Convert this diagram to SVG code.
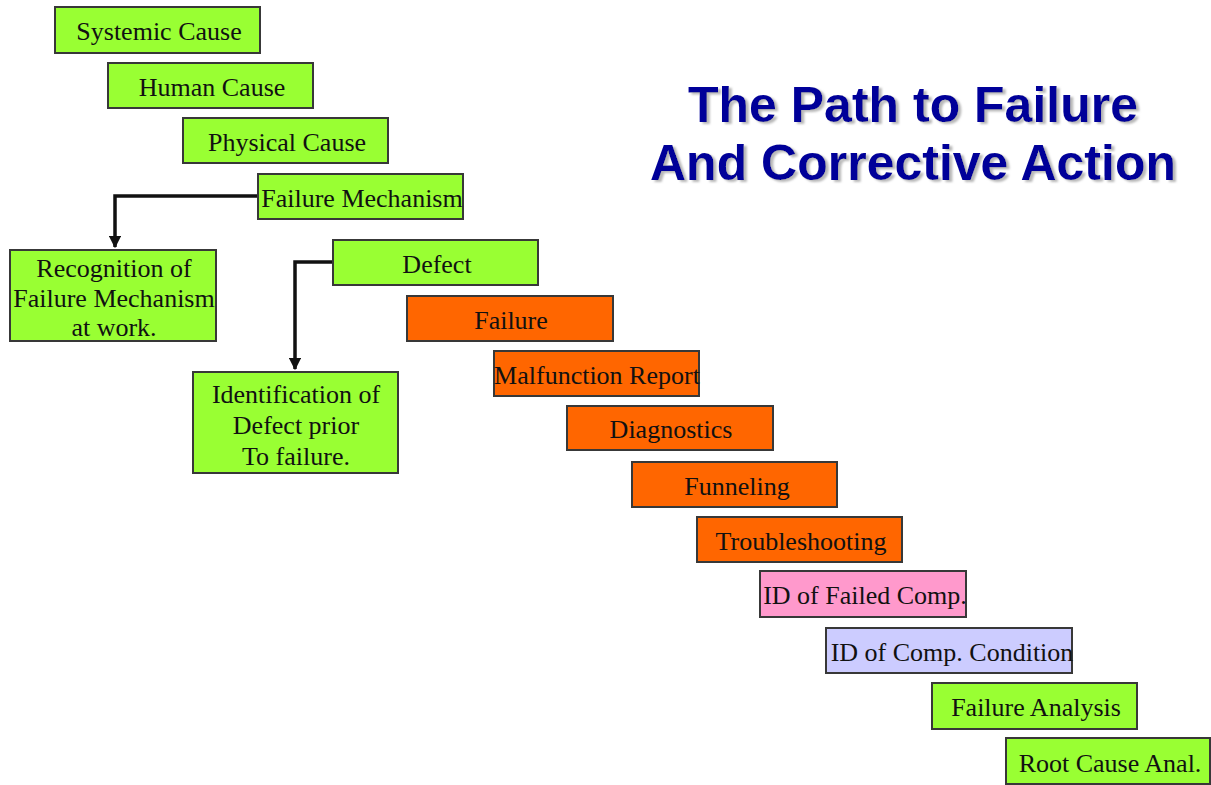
<svg xmlns="http://www.w3.org/2000/svg" width="1211" height="785" viewBox="0 0 1211 785">
<style>
.box{stroke:#383838;stroke-width:2}
.g{fill:#99FF33}.o{fill:#FF6600}.p{fill:#FF99CC}.l{fill:#CCCCFF}
.t{font-family:"Liberation Serif","Times New Roman",serif;font-size:26px;fill:#111;text-anchor:middle}
.title{font-family:"Liberation Sans",Arial,sans-serif;font-weight:bold;font-size:50px;text-anchor:middle;fill:#000099}
.conn{fill:none;stroke:#111;stroke-width:3.5}
</style>
<defs>
<marker id="arr" viewBox="0 0 10 10" refX="9" refY="5" markerWidth="3.6" markerHeight="3.6" orient="auto" markerUnits="strokeWidth">
<path d="M0,0 L10,5 L0,10 z" fill="#111"/>
</marker>
<filter id="shadow" x="-5%" y="-20%" width="110%" height="140%">
<feDropShadow dx="3" dy="2" stdDeviation="0.8" flood-color="#b8b8b8" flood-opacity="1"/>
</filter>
</defs>
<rect width="1211" height="785" fill="#fff"/>
<g id="title" filter="url(#shadow)">
<text class="title" x="913" y="122">The Path to Failure</text>
<text class="title" x="913" y="180">And Corrective Action</text>
</g>
<g id="connectors">
<path class="conn" d="M258,196 H115 V247" marker-end="url(#arr)"/>
<path class="conn" d="M333,262 H295 V369" marker-end="url(#arr)"/>
</g>
<g id="systemic"><rect class="box g" x="55" y="7" width="205" height="46"/><text class="t" x="159" y="40">Systemic Cause</text></g>
<g id="human"><rect class="box g" x="108" y="63" width="205" height="45"/><text class="t" x="212" y="96">Human Cause</text></g>
<g id="physical"><rect class="box g" x="183" y="118" width="205" height="45"/><text class="t" x="287" y="151">Physical Cause</text></g>
<g id="mechanism"><rect class="box g" x="258" y="174" width="205" height="45"/><text class="t" x="362" y="207">Failure Mechanism</text></g>
<g id="recognition"><rect class="box g" x="10" y="250" width="206" height="91"/>
<text class="t" x="114" y="277">Recognition of</text>
<text class="t" x="114" y="307">Failure Mechanism</text>
<text class="t" x="114" y="336">at work.</text></g>
<g id="defect"><rect class="box g" x="333" y="240" width="205" height="45"/><text class="t" x="437" y="273">Defect</text></g>
<g id="identification"><rect class="box g" x="193" y="372" width="205" height="101"/>
<text class="t" x="296" y="403">Identification of</text>
<text class="t" x="296" y="434">Defect prior</text>
<text class="t" x="296" y="465">To failure.</text></g>
<g id="failure"><rect class="box o" x="407" y="296" width="206" height="45"/><text class="t" x="511" y="329">Failure</text></g>
<g id="malfunction"><rect class="box o" x="494" y="351" width="205" height="45"/><text class="t" x="597" y="384">Malfunction Report</text></g>
<g id="diagnostics"><rect class="box o" x="567" y="406" width="206" height="44"/><text class="t" x="671" y="438">Diagnostics</text></g>
<g id="funneling"><rect class="box o" x="632" y="462" width="205" height="45"/><text class="t" x="737" y="495">Funneling</text></g>
<g id="troubleshooting"><rect class="box o" x="697" y="517" width="205" height="45"/><text class="t" x="801" y="550">Troubleshooting</text></g>
<g id="failedcomp"><rect class="box p" x="760" y="571" width="206" height="46"/><text class="t" x="865" y="604">ID of Failed Comp.</text></g>
<g id="compcondition"><rect class="box l" x="826" y="628" width="246" height="45"/><text class="t" x="952" y="661">ID of Comp. Condition</text></g>
<g id="failureanalysis"><rect class="box g" x="932" y="683" width="205" height="46"/><text class="t" x="1036" y="716">Failure Analysis</text></g>
<g id="rootcause"><rect class="box g" x="1006" y="738" width="204" height="46"/><text class="t" x="1110" y="772">Root Cause Anal.</text></g>
</svg>
